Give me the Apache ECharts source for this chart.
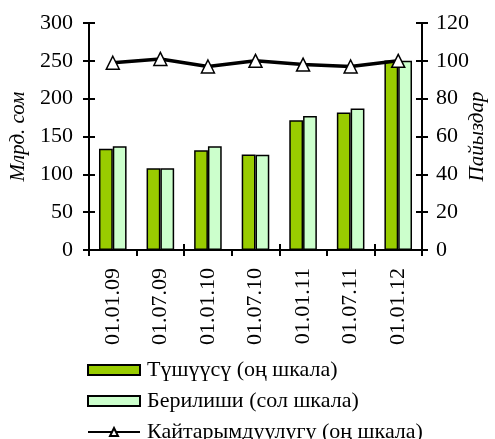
<!DOCTYPE html>
<html>
<head>
<meta charset="utf-8">
<script src="https://cdn.jsdelivr.net/npm/echarts@6/dist/echarts.min.js"></script>
<style>
  html, body { margin: 0; padding: 0; background: #fff; }
  #main { width: 495px; height: 439px; }
</style>
</head>
<body>
<div id="main"></div>
<script>
var dates = ['01.01.09', '01.07.09', '01.01.10', '01.07.10', '01.01.11', '01.07.11', '01.01.12'];
// Түшүүсү (оң шкала)
var inflow = [53.5, 43.2, 52.7, 50.5, 68.6, 72.7, 100.2];
// Берилиши (сол шкала), млрд. сом
var issued = [137, 108, 137, 126, 177, 187, 250];
// Кайтарымдуулугу (оң шкала), %
var returnRate = [99, 101, 97, 100, 98, 97, 100];

var leftTicks = { min: 0, max: 300, interval: 50 };
var rightTicks = { min: 0, max: 120, interval: 20 };

var FONT = 'Liberation Serif';
var chart = echarts.init(document.getElementById('main'));

var axisLine = { show: true, lineStyle: { color: '#000', width: 2 } };
var tickOut = { show: true, length: 6, lineStyle: { color: '#000', width: 2 } };
var tickIn = { show: true, inside: true, length: 6, lineStyle: { color: '#000', width: 2 } };

function legendRow(name, top) {
    return {
        orient: 'vertical',
        left: 82,
        top: top,
        itemWidth: 52,
        itemHeight: 10,
        itemGap: 0,
        textStyle: { fontFamily: FONT, fontSize: 22, color: '#000', padding: [0, 0, 0, 2] },
        data: [{ name: name, icon: name.indexOf('Кайтар') === 0 ? undefined : 'rect' }]
    };
}

var option = {
    animation: false,
    textStyle: { fontFamily: FONT, color: '#000' },
    grid: { left: 89, right: 73, top: 23, bottom: 189, outerBoundsMode: 'none' },
    legend: [
        legendRow('Түшүүсү (оң шкала)', 354),
        legendRow('Берилиши (сол шкала)', 385),
        legendRow('Кайтарымдуулугу (оң шкала)', 416)
    ],
    xAxis: [{
        type: 'category',
        data: dates,
        axisLine: axisLine,
        axisTick: tickOut,
        axisLabel: { rotate: 90, fontFamily: FONT, fontSize: 22, color: '#000', margin: 18 },
        splitLine: { show: false }
    }, {
        type: 'category',
        data: dates,
        position: 'bottom',
        axisLine: { show: false },
        axisTick: tickIn,
        axisLabel: { show: false },
        splitLine: { show: false }
    }],
    yAxis: [{
        type: 'value',
        position: 'left',
        min: leftTicks.min, max: leftTicks.max, interval: leftTicks.interval,
        name: 'Млрд. сом',
        nameLocation: 'middle',
        nameRotate: 90,
        nameGap: 60,
        nameMoveOverlap: false,
        nameTextStyle: { fontFamily: FONT, fontSize: 21, fontStyle: 'italic', color: '#000' },
        axisLine: axisLine,
        axisTick: tickOut,
        axisLabel: { fontFamily: FONT, fontSize: 22, color: '#000', margin: 16 },
        splitLine: { show: false }
    }, {
        type: 'value',
        position: 'right',
        min: rightTicks.min, max: rightTicks.max, interval: rightTicks.interval,
        name: 'Пайыздар',
        nameLocation: 'middle',
        nameRotate: 90,
        nameGap: 45,
        nameMoveOverlap: false,
        nameTextStyle: { fontFamily: FONT, fontSize: 21, fontStyle: 'italic', color: '#000' },
        axisLine: axisLine,
        axisTick: tickOut,
        axisLabel: { fontFamily: FONT, fontSize: 22, color: '#000', margin: 14 },
        splitLine: { show: false }
    }, {
        type: 'value',
        position: 'left',
        min: leftTicks.min, max: leftTicks.max, interval: leftTicks.interval,
        axisLine: { show: false },
        axisTick: tickIn,
        axisLabel: { show: false },
        splitLine: { show: false }
    }, {
        type: 'value',
        position: 'right',
        min: rightTicks.min, max: rightTicks.max, interval: rightTicks.interval,
        axisLine: { show: false },
        axisTick: tickIn,
        axisLabel: { show: false },
        splitLine: { show: false }
    }],
    series: [{
        name: 'Түшүүсү (оң шкала)',
        type: 'bar',
        yAxisIndex: 1,
        data: inflow,
        barGap: '0%',
        barCategoryGap: '42%',
        itemStyle: { color: '#99cc00', borderColor: '#000', borderWidth: 1.5 }
    }, {
        name: 'Берилиши (сол шкала)',
        type: 'bar',
        yAxisIndex: 0,
        data: issued,
        barGap: '0%',
        barCategoryGap: '42%',
        itemStyle: { color: '#ccffcc', borderColor: '#000', borderWidth: 1.5 }
    }, {
        name: 'Кайтарымдуулугу (оң шкала)',
        type: 'line',
        yAxisIndex: 1,
        data: returnRate,
        symbol: 'triangle',
        symbolSize: 13,
        showAllSymbol: true,
        lineStyle: { color: '#000', width: 3.5 },
        itemStyle: { color: '#fff', borderColor: '#000', borderWidth: 1.5 },
        z: 5
    }]
};

chart.setOption(option);
</script>
</body>
</html>
